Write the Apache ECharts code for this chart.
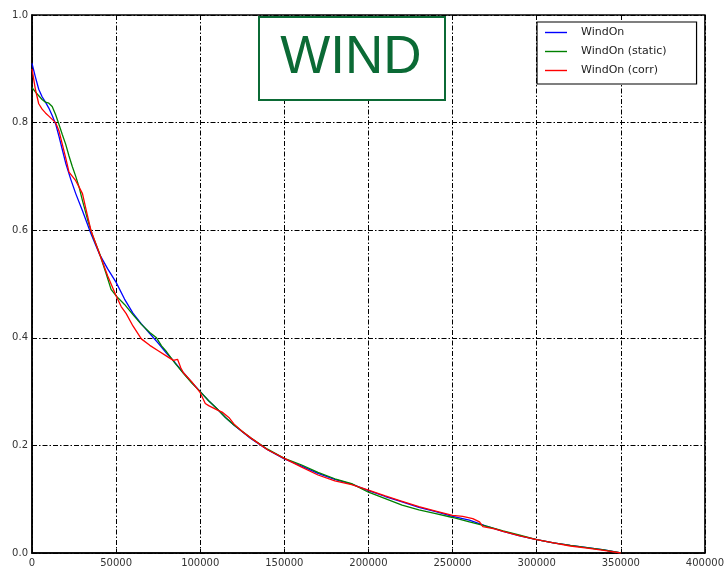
<!DOCTYPE html>
<html>
<head>
<meta charset="utf-8">
<script src="https://cdn.jsdelivr.net/npm/echarts@6/dist/echarts.min.js"></script>
<style>html,body{margin:0;padding:0;background:#fff;}#c{width:727px;height:569px;}</style>
</head>
<body>
<div id="c"></div>
<script>
const xTicks = [0, 50000, 100000, 150000, 200000, 250000, 300000, 350000, 400000];
const yTicks = [0.0, 0.2, 0.4, 0.6, 0.8, 1.0];
const seriesNames = ['WindOn', 'WindOn (static)', 'WindOn (corr)'];

const blueX = [0,2000,4000,6000,8000,10000,12000,14000,16000,18000,20000,23000,26000,30000,35000,40000,45000,50000,55000,60000,65000,70000,75000,80000,85000,90000,95000,100000,105000,110000,115000,120000,130000,140000,150000,160000,170000,180000,190000,200000,210000,220000,230000,240000,250000,260000,270000,280000,290000,300000,310000,320000,330000,340000,350000];
const blueY = [0.910,0.885,0.862,0.848,0.838,0.827,0.813,0.798,0.775,0.750,0.725,0.695,0.668,0.636,0.594,0.556,0.528,0.503,0.472,0.446,0.426,0.408,0.390,0.371,0.354,0.335,0.317,0.300,0.283,0.268,0.252,0.238,0.213,0.192,0.175,0.162,0.148,0.137,0.128,0.116,0.105,0.095,0.085,0.077,0.068,0.061,0.050,0.040,0.032,0.025,0.019,0.014,0.010,0.006,0.000];

const greenX = [0,2000,4000,6000,8000,10000,12000,14000,16000,18000,20000,22000,24000,26000,28000,30000,33000,36000,40000,44000,47000,50000,55000,60000,65000,70000,74000,77000,80000,85000,90000,95000,100000,105000,110000,115000,120000,130000,140000,150000,160000,170000,180000,190000,200000,210000,220000,230000,240000,250000,260000,270000,280000,290000,300000,310000,320000,330000,340000,350000];
const greenY = [0.865,0.857,0.850,0.843,0.838,0.836,0.830,0.815,0.797,0.778,0.760,0.738,0.718,0.700,0.680,0.655,0.620,0.590,0.558,0.520,0.490,0.478,0.462,0.443,0.425,0.410,0.400,0.385,0.374,0.353,0.334,0.316,0.300,0.283,0.268,0.252,0.238,0.214,0.193,0.176,0.164,0.150,0.138,0.129,0.113,0.101,0.089,0.080,0.073,0.066,0.058,0.050,0.041,0.033,0.025,0.019,0.014,0.010,0.006,0.000];

const redX = [0,2000,4000,6000,8000,10000,12000,14000,16000,18000,20000,22000,24000,26000,28000,30000,32000,35000,40000,45000,50000,53000,56000,60000,65000,70000,75000,80000,84000,86500,88500,90000,95000,100000,103000,105000,110000,113000,117000,120000,125000,130000,140000,150000,160000,170000,180000,190000,200000,210000,220000,230000,240000,250000,256000,262000,266000,268000,275000,280000,290000,300000,310000,320000,330000,340000,350000];
const redY = [0.900,0.862,0.835,0.825,0.818,0.812,0.806,0.800,0.785,0.760,0.735,0.708,0.700,0.692,0.680,0.668,0.640,0.600,0.557,0.515,0.478,0.458,0.445,0.422,0.398,0.386,0.376,0.366,0.358,0.360,0.344,0.335,0.318,0.298,0.278,0.274,0.266,0.262,0.252,0.240,0.226,0.214,0.192,0.176,0.160,0.145,0.134,0.127,0.117,0.106,0.096,0.086,0.078,0.070,0.068,0.064,0.058,0.049,0.045,0.040,0.032,0.025,0.019,0.013,0.009,0.005,0.000];

function pairs(xs, ys) { return xs.map((x, i) => [x, ys[i]]); }

const chart = echarts.init(document.getElementById('c'), null, {renderer: 'canvas'});
const gridLine = {show: true, lineStyle: {color: '#000', width: 1, type: [5, 2, 1.5, 2]}};
const labelStyle = {color: '#333', fontSize: 10, fontFamily: 'DejaVu Sans'};
const lineIcon = 'path://M0,0 L22,0 L22,1.4 L0,1.4 Z';
chart.setOption({
  animation: false,
  backgroundColor: '#fff',
  grid: {left: 32, right: 22, top: 15, bottom: 16, show: true, borderColor: '#000', borderWidth: 1.5, backgroundColor: 'transparent'},
  xAxis: {
    type: 'value', min: xTicks[0], max: xTicks[xTicks.length - 1], interval: xTicks[1] - xTicks[0],
    axisLine: {show: true, lineStyle: {color: '#000', width: 1.5}},
    axisTick: {show: true, inside: true, length: 4, lineStyle: {color: '#000'}},
    axisLabel: Object.assign({margin: 5, formatter: v => String(v)}, labelStyle),
    splitLine: gridLine
  },
  yAxis: {
    type: 'value', min: yTicks[0], max: yTicks[yTicks.length - 1], interval: 0.2,
    axisLine: {show: true, lineStyle: {color: '#000', width: 1.5}},
    axisTick: {show: true, inside: true, length: 4, lineStyle: {color: '#000'}},
    axisLabel: Object.assign({margin: 4, formatter: v => v.toFixed(1)}, labelStyle),
    splitLine: gridLine
  },
  legend: {
    orient: 'vertical', left: 537, top: 22,
    data: seriesNames.map(n => ({name: n, icon: lineIcon})),
    backgroundColor: '#fff', borderColor: '#000', borderWidth: 1.2, borderRadius: 0,
    padding: [5, 30, 8, 8], itemGap: 8, itemWidth: 22, itemHeight: 12,
    textStyle: {fontSize: 11, color: '#222', fontFamily: 'DejaVu Sans', padding: [0, 0, 0, 9]}
  },
  graphic: [
    {type: 'rect', left: 258, top: 16, z: 100, shape: {width: 186, height: 83},
     style: {fill: '#fff', stroke: '#0b6a35', lineWidth: 2}},
    {type: 'text', x: 351, y: 58, z: 101,
     style: {text: 'WIND', fill: '#0b6a35', font: '53px "Liberation Sans"', align: 'center', verticalAlign: 'middle'}}
  ],
  series: [
    {name: seriesNames[0], type: 'line', symbol: 'none', data: pairs(blueX, blueY), lineStyle: {color: '#0000ff', width: 1.3}, itemStyle: {color: '#0000ff'}, z: 3},
    {name: seriesNames[1], type: 'line', symbol: 'none', data: pairs(greenX, greenY), lineStyle: {color: '#008000', width: 1.3}, itemStyle: {color: '#008000'}, z: 4},
    {name: seriesNames[2], type: 'line', symbol: 'none', data: pairs(redX, redY), lineStyle: {color: '#ff0000', width: 1.3}, itemStyle: {color: '#ff0000'}, z: 5}
  ]
});
</script>
</body>
</html>
